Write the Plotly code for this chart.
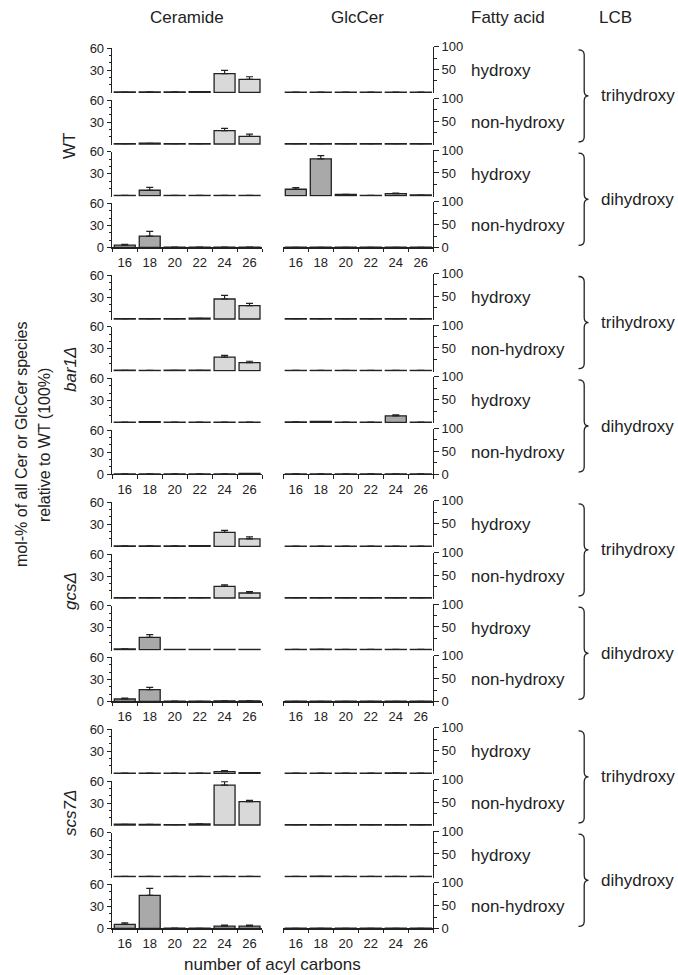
import plotly.graph_objects as go

# ---------------- data ----------------
CARBONS = ["16", "18", "20", "22", "24", "26"]
STRAINS = ["WT", "<i>bar1Δ</i>", "<i>gcsΔ</i>", "<i>scs7Δ</i>"]
FA_LABELS = ["hydroxy", "non-hydroxy", "hydroxy", "non-hydroxy"]
LCB_LABELS = ["trihydroxy", "dihydroxy"]
CER_TICKS = [0, 30, 60]
CER_MINOR = [10, 20, 40, 50]
GLC_TICKS = [0, 50, 100]
GLC_MINOR = [25, 75]

# rows: trihydroxy/hydroxy, trihydroxy/non-hydroxy, dihydroxy/hydroxy, dihydroxy/non-hydroxy
WT_CER = [[0.4, 0.6, 0.6, 1.0, 25.4, 17.7],
          [0.5, 1.0, 0.4, 0.5, 18.2, 10.4],
          [0.5, 7.4, 0.4, 0.4, 0.4, 0.4],
          [3.0, 15.4, 0.3, 0.3, 0.3, 0.3]]
WT_CER_ERR = [[None, None, None, None, 4.5, 3.5],
              [None, None, None, None, 3.0, 3.0],
              [None, 4.0, None, None, None, None],
              [1.0, 6.5, None, None, None, None]]
WT_GLC = [[0.5, 0.5, 0.5, 0.5, 0.5, 0.5],
          [0.5, 0.5, 0.5, 0.5, 0.5, 0.5],
          [14.2, 81.0, 3.0, 0.6, 4.5, 1.5],
          [0.3, 0.3, 0.3, 0.3, 0.3, 0.3]]
WT_GLC_ERR = [[None] * 6,
              [None] * 6,
              [3.5, 7.0, None, None, 1.0, None],
              [None] * 6]

BAR1_CER = [[0.5, 0.5, 0.6, 1.0, 27.3, 18.2],
            [0.6, 0.5, 0.6, 0.6, 18.6, 10.9],
            [0.5, 1.0, 0.5, 0.5, 0.5, 0.5],
            [0.3, 0.3, 0.3, 0.3, 0.3, 0.8]]
BAR1_CER_ERR = [[None, None, None, None, 5.0, 3.0],
                [None, None, None, None, 2.3, 2.0],
                [None] * 6,
                [None] * 6]
BAR1_GLC = [[0.5, 0.5, 0.5, 0.5, 0.7, 0.5],
            [0.5, 0.5, 0.5, 0.5, 0.5, 0.5],
            [1.0, 2.0, 0.5, 0.5, 14.4, 0.5],
            [0.3, 0.3, 0.3, 0.3, 0.3, 0.3]]
BAR1_GLC_ERR = [[None] * 6,
                [None] * 6,
                [None, None, None, None, 2.0, None],
                [None] * 6]

GCS_CER = [[0.5, 0.6, 0.5, 1.0, 19.1, 10.0],
           [0.5, 0.6, 0.5, 0.6, 15.8, 6.8],
           [1.0, 16.8, 0.3, 0.3, 0.3, 0.3],
           [3.3, 16.0, 0.3, 0.2, 0.8, 0.8]]
GCS_CER_ERR = [[None, None, None, None, 2.7, 2.8],
               [None, None, None, None, 2.0, 1.8],
               [None, 3.7, None, None, None, None],
               [1.3, 3.0, None, None, None, None]]
GCS_GLC = [[0.5, 0.5, 0.5, 0.5, 0.5, 0.5],
           [0.5, 0.5, 0.5, 0.5, 0.5, 0.5],
           [0.5, 1.0, 0.5, 0.5, 0.5, 0.5],
           [0.3, 0.3, 0.3, 0.3, 0.3, 0.3]]
GCS_GLC_ERR = [[None] * 6, [None] * 6, [None] * 6, [None] * 6]

SCS7_CER = [[0.3, 0.3, 0.3, 0.3, 2.3, 1.0],
            [1.0, 0.8, 0.5, 1.5, 54.5, 31.8],
            [0.4, 0.4, 0.4, 0.4, 0.4, 0.4],
            [5.5, 45.0, 0.5, 0.2, 3.1, 3.1]]
SCS7_CER_ERR = [[None, None, None, None, 1.4, None],
                [None, None, None, None, 4.5, 1.9],
                [None] * 6,
                [2.0, 9.5, None, None, 1.4, 1.4]]
SCS7_GLC = [[0.5, 0.5, 0.5, 0.5, 1.0, 0.5],
            [0.5, 0.5, 0.5, 0.5, 0.5, 0.5],
            [0.5, 1.0, 0.5, 0.5, 0.5, 0.5],
            [0.3, 0.3, 0.3, 0.3, 0.3, 0.3]]
SCS7_GLC_ERR = [[None] * 6, [None] * 6, [None] * 6, [None] * 6]

CER_DATA = [(WT_CER, WT_CER_ERR), (BAR1_CER, BAR1_CER_ERR), (GCS_CER, GCS_CER_ERR), (SCS7_CER, SCS7_CER_ERR)]
GLC_DATA = [(WT_GLC, WT_GLC_ERR), (BAR1_GLC, BAR1_GLC_ERR), (GCS_GLC, GCS_GLC_ERR), (SCS7_GLC, SCS7_GLC_ERR)]

# ---------------- geometry (pixels) ----------------
W, H = 678, 975
GROUP_TOP = [48.3, 275.0, 502.3, 729.3]
PANEL_STEP = 51.7
PANEL_H = 44.0
CER_X = (112.3, 262.0)
GLC_X = (283.3, 433.3)
FONT = "Liberation Sans, Arial, Helvetica, sans-serif"
TXT = "#222222"
LINE = "#222222"
LIGHT = "#d9d9d9"
DARK = "#a9a9a9"


def px(x):
    return x / W


def py(y):
    return 1 - y / H


fig = go.Figure()
layout = {}
n = 0
for g in range(4):
    for r in range(4):
        top = GROUP_TOP[g] + r * PANEL_STEP
        base = top + PANEL_H
        bottom_row = (r == 3)
        for c in range(2):
            n += 1
            xname = "x" if n == 1 else f"x{n}"
            yname = "y" if n == 1 else f"y{n}"
            xkey = "xaxis" if n == 1 else f"xaxis{n}"
            ykey = "yaxis" if n == 1 else f"yaxis{n}"
            if c == 0:
                vals, errs = CER_DATA[g][0][r], CER_DATA[g][1][r]
                ymax, ptop = 60.0, top
                ticks, minor = CER_TICKS, CER_MINOR
                xd = CER_X
            else:
                vals, errs = GLC_DATA[g][0][r], GLC_DATA[g][1][r]
                ymax, ptop = 100.0, top - 1.5
                ticks, minor = GLC_TICKS, GLC_MINOR
                xd = GLC_X
            pad = 0.0 if bottom_row else 1.0
            scale = ymax / (base - ptop)
            ylow = -pad * scale
            color = LIGHT if r < 2 else DARK
            fig.add_trace(go.Bar(
                x=CARBONS, y=vals, xaxis=xname, yaxis=yname,
                width=0.84, showlegend=False,
                marker=dict(color=color, line=dict(color=LINE, width=1.3)),
                error_y=dict(type="data", symmetric=False, array=errs,
                             arrayminus=[0] * 6, color=LINE, thickness=1.2, width=3.5),
            ))
            tv = ticks if bottom_row else ticks[1:]
            layout[xkey] = dict(
                domain=[px(xd[0]), px(xd[1])], anchor=yname, type="category",
                categoryorder="array", categoryarray=CARBONS,
                range=[-0.5, 5.5], fixedrange=True, automargin=False,
                showgrid=False, zeroline=False,
                visible=bottom_row,
                showline=bottom_row, linecolor=LINE, linewidth=1.1,
                ticks="outside" if bottom_row else "", tickson="boundaries",
                ticklen=3.5, tickwidth=1, tickcolor=LINE,
                showticklabels=bottom_row, ticklabelstandoff=3,
                tickfont=dict(family=FONT, size=13, color=TXT),
            )
            layout[ykey] = dict(
                domain=[py(base + pad), py(ptop)], anchor=xname,
                side="left" if c == 0 else "right",
                range=[ylow, ymax], fixedrange=True, automargin=False,
                showgrid=False, zeroline=False,
                showline=True, linecolor=LINE, linewidth=1.1,
                tickmode="array", tickvals=tv, ticktext=[str(t) for t in tv],
                ticks="outside", ticklen=4.5, tickwidth=1, tickcolor=LINE,
                tickfont=dict(family=FONT, size=13, color=TXT),
                minor=dict(tickmode="array", tickvals=minor, ticks="outside",
                           ticklen=2.5, tickwidth=1, tickcolor=LINE, showgrid=False),
            )

annotations = []
shapes = []


def text(s, x, y, xanchor="center", yanchor="middle", size=17, angle=0):
    annotations.append(dict(text=s, x=px(x), y=py(y), xref="paper", yref="paper",
                            xanchor=xanchor, yanchor=yanchor, showarrow=False,
                            textangle=angle, font=dict(family=FONT, size=size, color=TXT)))


# headers
text("Ceramide", 187, 17)
text("GlcCer", 357, 17)
text("Fatty acid", 469, 17, xanchor="left")
text("LCB", 597, 17, xanchor="left")

STRAIN_Y = [146, 370, 591, 813]


def brace_path(x0, yt, yb):
    xv = x0 + 5.7
    xt = x0 + 10.0
    ym = (yt + yb) / 2
    rr = 5.0
    pts = [
        f"M {px(x0)},{py(yt)}",
        f"Q {px(xv)},{py(yt)} {px(xv)},{py(yt + rr)}",
        f"L {px(xv)},{py(ym - rr)}",
        f"Q {px(xv)},{py(ym)} {px(xt)},{py(ym)}",
        f"Q {px(xv)},{py(ym)} {px(xv)},{py(ym + rr)}",
        f"L {px(xv)},{py(yb - rr)}",
        f"Q {px(xv)},{py(yb)} {px(x0)},{py(yb)}",
    ]
    return " ".join(pts)


for g in range(4):
    for r in range(4):
        top = GROUP_TOP[g] + r * PANEL_STEP
        text(FA_LABELS[r], 469, top + PANEL_H / 2 + 0.5, xanchor="left")
    for k in range(2):
        yt = GROUP_TOP[g] + 2 * k * PANEL_STEP + 1.5
        yb = GROUP_TOP[g] + (2 * k + 1) * PANEL_STEP + PANEL_H - 2
        shapes.append(dict(type="path", xref="paper", yref="paper",
                           path=brace_path(578.5, yt, yb),
                           line=dict(color=LINE, width=1.3)))
        text(LCB_LABELS[k], 599, (yt + yb) / 2, xanchor="left")
    text(STRAINS[g], 70, STRAIN_Y[g], angle=-90)

text("mol-% of all Cer or GlcCer species", 22, 445, size=16, angle=-90)
text("relative to WT (100%)", 45, 445, size=16, angle=-90)
text("number of acyl carbons", 272, 964, size=17)

fig.update_layout(
    width=W, height=H, margin=dict(l=0, r=0, t=0, b=0, pad=0, autoexpand=False),
    paper_bgcolor="white", plot_bgcolor="rgba(0,0,0,0)",
    bargap=0.16, showlegend=False,
    annotations=annotations, shapes=shapes,
    font=dict(family=FONT, color=TXT),
    **layout,
)

fig.write_html(
    "out.html",
    config={"displayModeBar": False, "staticPlot": True},
    post_script="document.body.style.margin='0';document.body.style.padding='0';document.body.style.overflow='hidden';",
)
